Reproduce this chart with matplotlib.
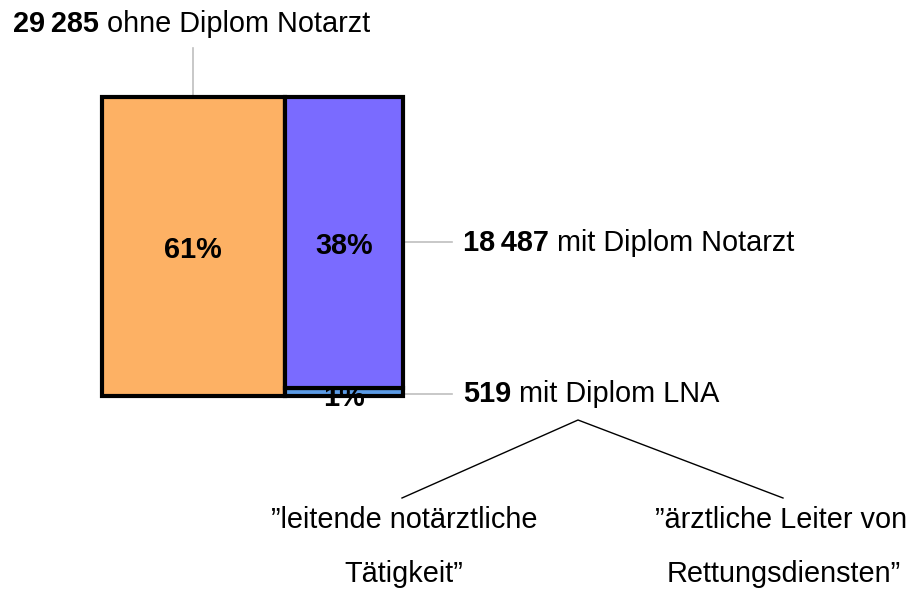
import matplotlib
matplotlib.use("Agg")
import matplotlib.pyplot as plt

plt.rcParams['font.family'] = ['Liberation Sans', 'DejaVu Sans']

# ---- data ----
categories = ["ohne Diplom Notarzt", "mit Diplom Notarzt", "mit Diplom LNA"]
counts = [29285, 18487, 519]
count_labels = ["29\u2009285", "18\u2009487", "519"]
pct_labels = ["61%", "38%", "1%"]
lna_sub = ["\u201dleitende notärztliche", "Tätigkeit\u201d",
           "\u201därztliche Leiter von", "Rettungsdiensten\u201d"]

colors = ["#FDB164", "#7A6BFF", "#5B9BE6"]

W, H = 912, 589
fig = plt.figure(figsize=(W / 100, H / 100), dpi=100)

# bar axes (marimekko-like)
bx0, by0, bx1, by1 = 102, 97, 403, 396
ax = fig.add_axes([bx0 / W, 1 - by1 / H, (bx1 - bx0) / W, (by1 - by0) / H])
total = sum(counts)
share_left = counts[0] / total
right_total = counts[1] + counts[2]
h_lna = counts[2] / right_total
h_not = counts[1] / right_total
lw = 3.0
b1 = ax.bar(0, 1, width=share_left, align='edge', color=colors[0], edgecolor='black', linewidth=lw)
b2 = ax.bar(share_left, h_lna, width=1 - share_left, align='edge', color=colors[2], edgecolor='black', linewidth=lw)
b3 = ax.bar(share_left, h_not, bottom=h_lna, width=1 - share_left, align='edge', color=colors[1], edgecolor='black', linewidth=lw)
for bc in (b1, b2, b3):
    for p in bc:
        p.set_clip_on(False)
ax.set_xlim(0, 1)
ax.set_ylim(0, 1)
ax.axis('off')

fs = 20.8
ax.text(share_left / 2, 0.487, pct_labels[0], ha='center', va='center', fontsize=fs, fontweight='bold')
ax.text(share_left + (1 - share_left) / 2, h_lna + h_not / 2 - 0.013, pct_labels[1], ha='center', va='center', fontsize=fs, fontweight='bold')
ax.text(share_left + (1 - share_left) / 2, h_lna / 2 - 0.02, pct_labels[2], ha='center', va='center', fontsize=fs, fontweight='bold', clip_on=False)

# overlay in pixel coords
ov = fig.add_axes([0, 0, 1, 1], zorder=-1)
ov.set_xlim(0, W)
ov.set_ylim(H, 0)
ov.axis('off')
ov.patch.set_alpha(0)

gray = "#BFBFBF"
ov.plot([193, 193], [48, 95], color=gray, lw=1.2)
ov.plot([405, 452], [242, 242], color=gray, lw=1.2)
ov.plot([405, 452], [394, 394], color=gray, lw=1.2)
ov.plot([402, 578, 783], [498, 420, 498], color='black', lw=1.0)

renderer = fig.canvas.get_renderer()

def label(x, y, num, txt):
    t = ov.text(x, y, num, fontsize=fs, fontweight='bold', ha='left', va='baseline')
    bb = t.get_window_extent(renderer=renderer)
    ov.text(x + bb.width, y, " " + txt, fontsize=fs, ha='left', va='baseline')

label(13, 32, count_labels[0], categories[0])
label(463, 251, count_labels[1], categories[1])
label(463, 402, count_labels[2], categories[2])

ov.text(404, 528, lna_sub[0], fontsize=fs, ha='center', va='baseline')
ov.text(404, 582, lna_sub[1], fontsize=fs, ha='center', va='baseline')
ov.text(781, 528, lna_sub[2], fontsize=fs, ha='center', va='baseline')
ov.text(784, 582, lna_sub[3], fontsize=fs, ha='center', va='baseline')

fig.savefig("out.png", dpi=100)
